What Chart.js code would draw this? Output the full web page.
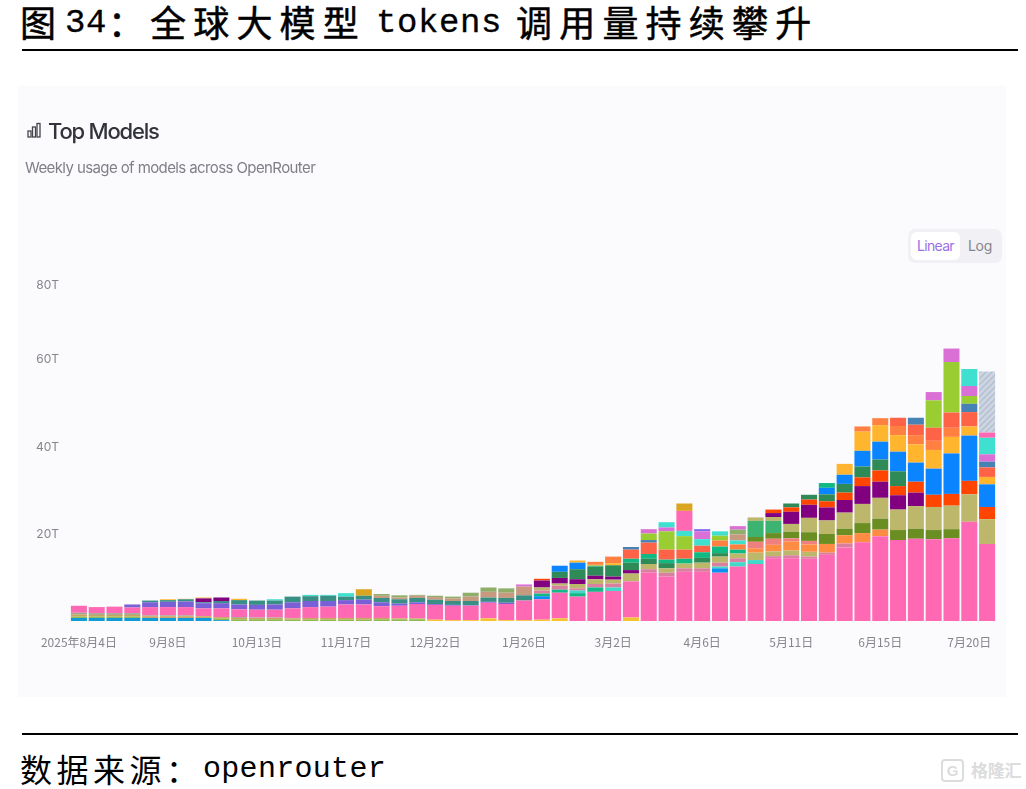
<!DOCTYPE html>
<html>
<head>
<meta charset="utf-8">
<script src="https://cdn.jsdelivr.net/npm/chart.js@4"></script>
<style>
html, body { margin: 0; padding: 0; background: #fff; }
#page { position: relative; width: 1026px; height: 789px; overflow: hidden; }
#page > * { position: absolute; }
.head { font-family: "Noto Sans CJK SC", sans-serif; font-size: 36px; line-height: 48px; top: -3px; letter-spacing: 7.2px; color: #000; white-space: nowrap; font-weight: 400; -webkit-text-stroke: .5px #000; }
.headLatin { font-family: "Liberation Mono", monospace; font-size: 34px; line-height: 48px; top: -1px; letter-spacing: .6px; color: #000; white-space: nowrap; -webkit-text-stroke: .3px #000; }
.foot { font-family: "Noto Sans CJK SC", sans-serif; font-size: 32px; line-height: 44px; top: 746px; letter-spacing: 4.5px; color: #000; white-space: nowrap; }
.footLatin { font-family: "Liberation Mono", monospace; font-size: 30px; line-height: 44px; top: 747px; letter-spacing: .3px; color: #000; white-space: nowrap; }
.rule { left: 22px; width: 996px; height: 2px; background: #000; }
#card { left: 18px; top: 86px; width: 988px; height: 611px; background: #fbfbfe; filter: blur(.7px); }
#card > * { position: absolute; }
#topTitle { left: 30px; top: 28px; font: 500 22px/34px Inter, sans-serif; letter-spacing: -1.2px; color: #33333b; white-space: nowrap; }
#topSub { left: 7px; top: 70px; font: 400 15px/24px Inter, sans-serif; letter-spacing: -.6px; color: #7f7f86; white-space: nowrap; }
#toggle { left: 890px; top: 143px; width: 94px; height: 34px; background: #f1f1f5; border-radius: 7px; }
#linearBtn { position: absolute; left: 3px; top: 3px; width: 49px; height: 28px; background: #fff; border-radius: 6px; font: 400 14px/28px Inter, sans-serif; letter-spacing: -.7px; color: #9a70e6; text-align: center; }
#logBtn { position: absolute; left: 60px; top: 3px; font: 400 14px/28px Inter, sans-serif; letter-spacing: -.3px; color: #85858c; }
#chartCanvas { left: 0; top: 0; }
#mark { left: 971px; top: 757px; font: 700 17px/26px "Noto Sans CJK SC", sans-serif; letter-spacing: -.3px; color: #dcdcdc; white-space: nowrap; }
#markLogo { left: 941px; top: 759px; width: 19px; height: 19px; border: 2px solid #dcdcdc; border-radius: 4px; font: 700 15px/19px "Liberation Sans", sans-serif; color: #dcdcdc; text-align: center; }
</style>
</head>
<body>
<div id="page">
  <div class="head" style="left:20px">图</div>
  <div class="headLatin" style="left:65px">34</div>
  <div class="head" style="left:108px">：</div>
  <div class="head" style="left:150px">全球大模型</div>
  <div class="headLatin" style="left:376px">tokens</div>
  <div class="head" style="left:516px">调用量持续攀升</div>
  <div class="rule" style="top:49px"></div>

  <div id="card">
    <canvas id="chartCanvas" width="988" height="611"></canvas>
    <svg style="left:9px;top:36px" width="14" height="16" viewBox="0 0 14 16" fill="none" stroke="#44444c" stroke-width="1.3">
      <rect x="1" y="9" width="3" height="6"/><rect x="5.5" y="5" width="3" height="10"/><rect x="10" y="1.5" width="3" height="13.5"/>
    </svg>
    <div id="topTitle">Top Models</div>
    <div id="topSub">Weekly usage of models across OpenRouter</div>
    <div id="toggle"><div id="linearBtn">Linear</div><div id="logBtn">Log</div></div>
  </div>

  <div class="rule" style="top:733px"></div>
  <div class="foot" style="left:20px">数据来源：</div>
  <div class="footLatin" style="left:203px">openrouter</div>
  <div id="markLogo">G</div>
  <div id="mark">格隆汇</div>
</div>

<script>
// one label per week
const weeks = ['2025年8月4日','8月11日','8月18日','8月25日','9月1日','9月8日','9月15日','9月22日','9月29日','10月6日',
  '10月13日','10月20日','10月27日','11月3日','11月10日','11月17日','11月24日','12月1日','12月8日','12月15日',
  '12月22日','12月29日','1月5日','1月12日','1月19日','1月26日','2月2日','2月9日','2月16日','2月23日',
  '3月2日','3月9日','3月16日','3月23日','3月30日','4月6日','4月13日','4月20日','4月27日','5月4日',
  '5月11日','5月18日','5月25日','6月1日','6月8日','6月15日','6月22日','6月29日','7月6日','7月13日',
  '7月20日','7月27日'];

const yTickValues = [20, 40, 60, 77.2];
const yTickLabels = ['20T', '40T', '60T', '80T'];

// weekly tokens in T, bottom of the stack first
const skyBase    = [.7,.7,.7,.7,.7,.7,.7,.7,.2,0, 0,0,0,0,0,0,0,0,0,0, 0,0,0,0,0,0,0,0,0,0, 0,0,0,0,0,0,0,0,0,0, 0,0,0,0,0,0,0,0,0,0, 0,0];
const mossBase   = [.3,.3,.3,.3,0,0,0,0,.4,.4, .4,.4,.3,.3,.3,.3,.3,.4,.4,.4, 0,0,0,0,0,0,0,0,0,0, 0,0,0,0,0,0,0,0,0,0, 0,0,0,0,0,0,0,0,0,0, 0,0];
const yellowBase = [0,0,0,0,0,0,0,0,0,0, 0,0,0,0,0,0,0,0,0,0, .3,.2,.2,.6,.2,.2,.3,.6,0,0, 0,.8,0,0,0,0,0,0,0,0, 0,0,0,0,0,0,0,0,0,0, 0,0];
const tanBase    = [.5,.4,.4,.4,.4,.4,.4,.4,.3,.3, .3,.3,.3,.4,.4,.4,.4,.3,.2,.2, 0,0,0,0,0,0,0,0,0,0, 0,0,0,0,0,0,0,0,0,0, 0,0,0,0,0,0,0,0,0,0, 0,0];
const greyBase   = [.4,.4,.4,.4,.2,.2,.2,0,0,.2, .1,.1,.1,0,0,0,0,0,0,0, 0,0,0,0,0,0,0,0,0,0, 0,0,0,0,0,0,0,0,0,0, 0,0,0,0,0,0,0,0,0,0, 0,0];
const hotPink    = [1.6,1.4,1.5,1.3,1.9,1.9,1.9,1.8,2,1.8, 1.8,1.8,2.2,2.5,2.6,3.1,3.1,2.7,2.9,3.3, 3.4,3.3,3.3,3.6,3.7,4.5,4.7,5.9,5.6,6.7, 6.9,8.3,11.1,10.2,11.3,11.3,11.1,12.5,13.1,14.4, 14.4,14.3,15.2,16.9,18.1,19.5,18.6,18.9,18.8,19, 22.8,17.7];
const azureLow   = [0,0,0,0,0,0,0,0,0,0, 0,0,0,0,0,0,0,0,0,0, 0,0,0,0,0,0,.7,0,0,0, 0,0,0,0,0,0,1,0,0,0, 0,0,0,0,0,0,0,0,0,0, 0,0];
const emeraldLow = [0,0,0,0,0,0,0,0,0,0, 0,0,0,0,0,0,0,0,0,0, 0,0,0,0,0,0,.6,.7,.8,1, 0,0,0,0,0,0,0,0,0,0, 0,0,0,0,0,0,0,0,0,0, 0,0];
const turqLow    = [0,0,0,0,0,0,0,0,0,0, 0,0,0,0,0,0,0,0,0,0, 0,0,0,0,0,0,0,0,.6,0, .8,0,0,0,0,0,.4,1,.9,0, 0,0,0,0,0,0,0,0,0,0, 0,0];
const rose       = [0,0,0,0,0,0,0,0,0,0, 0,0,0,0,0,0,0,0,0,0, 0,0,0,0,0,0,.7,.9,.5,.8, .9,0,.8,.9,.8,.8,.9,.9,0,.5, .7,.5,.5,.9,0,0,0,0,0,0, 0,0];
const khakiLow   = [0,0,0,0,0,0,0,0,0,0, 0,0,0,0,0,0,0,0,0,0, 0,0,0,0,0,0,0,0,0,0, 0,0,0,0,0,0,0,0,1.7,1.1, 1.1,1.1,0,0,0,0,0,0,0,0, 0,0];
const coral      = [0,0,0,0,0,0,0,0,0,0, 0,0,0,0,0,0,0,0,0,0, 0,0,0,0,0,0,0,0,0,0, 0,0,0,0,0,0,0,0,1,1.5, 2.1,1.7,2,1.9,2.1,1.5,0,0,0,0, 0,0];
const salmon     = [0,0,0,0,0,0,0,0,0,0, 0,0,0,0,0,0,0,0,0,0, 0,0,0,0,0,0,0,0,0,0, 0,0,0,0,0,0,0,0,1.5,1.4, .7,.8,0,0,0,0,0,0,0,0, 0,0];
const olive      = [0,0,0,0,0,0,0,0,0,0, 0,0,0,0,0,0,0,0,0,0, 0,0,0,0,0,0,0,0,0,0, 0,0,0,0,0,0,0,0,1.1,1.3, 1.5,2,2.3,1.5,2.3,2.5,2.3,2.3,2.1,2.1, 0,0];
const mediumSea  = [0,0,0,0,0,0,0,0,0,0, 0,0,0,0,0,0,0,0,0,0, 0,0,0,0,0,0,0,0,0,0, 0,0,0,0,0,0,0,0,3.7,2.8, 0,0,0,0,0,0,0,0,0,0, 0,0];
const khaki      = [0,0,0,0,0,0,0,0,0,0, 0,0,0,0,0,0,0,0,0,0, 0,0,0,0,0,0,.7,.5,1,1.1, .9,1.8,1.2,1,1.1,1.3,1.4,1.1,.8,.9, 1.8,3.3,3.1,3.7,4.4,4.8,4.7,5.2,5.3,5.4, 6.3,5.7];
const slate      = [0,0,0,.7,1.1,1.2,1.3,1.2,1.2,1.1, 1.1,1.2,1.4,1.4,1.3,1,1.1,.9,.5,.4, .2,.2,.1,.2,.3,0,0,0,0,0, 0,0,0,0,0,0,0,0,0,0, 0,0,0,0,0,0,0,0,0,0, 0,0];
const teal       = [0,0,0,0,.4,.4,.5,.2,.5,1, 1,.9,1.3,1.1,1.2,.8,.9,1,1,1, 1,.9,1,1,1.1,1.2,0,0,0,0, 0,0,0,0,0,0,0,0,0,0, 0,0,0,0,0,0,0,0,0,0, 0,0];
const purple     = [0,0,0,0,0,0,0,.9,.8,0, 0,0,0,0,0,0,0,0,0,0, 0,0,0,0,0,0,1.6,1.3,1.1,.8, .7,.8,0,0,0,0,0,0,0,.9, 2.8,3,3,2.9,4.1,3.7,3.3,3.1,0,0, 0,0];
const orangeRed  = [0,0,0,0,0,0,0,0,0,0, 0,0,0,0,0,0,0,0,0,0, 0,0,0,0,0,0,.4,0,0,0, 0,0,0,0,0,0,0,0,0,.8, 1,1.2,1.4,1.7,2,2.6,2.1,2.5,2.8,2.7, 3.1,2.8];
const seaGreen   = [0,0,0,0,0,0,0,0,0,0, 0,0,0,0,0,0,0,0,0,0, 0,0,0,0,0,0,0,1.4,2.3,2.1, 2.6,1.7,1.2,1.2,0,1.1,.8,0,0,0, .9,1.1,1.6,2,2.5,2.5,3.4,0,0,0, 0,0];
const blue       = [0,0,0,0,0,0,0,0,0,0, 0,0,0,0,0,0,0,0,0,0, 0,0,0,0,0,0,0,1.4,1.5,0, 0,0,0,0,0,0,0,0,0,0, 0,0,1.5,2.1,3.6,4.1,4.5,4.4,6,9.3, 10.4,5.2];
const emerald    = [0,0,0,0,0,0,0,0,0,0, 0,0,0,0,0,0,0,0,0,0, 0,0,0,0,0,0,0,0,0,.2, 0,.9,1.1,.8,1.1,1.3,1.5,.9,0,0, 0,0,1.1,0,0,0,0,0,0,0, 0,0];
const amber      = [0,0,0,0,0,.2,.1,.2,0,.3, 0,0,0,0,0,0,0,0,0,0, 0,0,0,0,0,0,0,0,.5,.2, .5,0,0,0,0,0,0,0,0,0, 0,0,0,2.5,4.4,3.8,3.8,4.2,4.3,3.8, 2.1,1.7];
const orange     = [0,0,0,0,0,0,0,0,0,0, 0,0,0,0,0,0,0,0,0,0, 0,0,0,0,0,0,0,0,0,.7, 1.5,0,0,0,0,0,1.4,1.2,0,0, 0,0,0,0,1.2,1.6,2.1,2.1,2.1,2.1, 0,0];
const tomato     = [0,0,0,0,0,0,0,0,0,0, 0,0,0,0,0,0,0,0,0,0, 0,0,0,0,0,0,0,0,0,0, 0,2.1,2.6,2.3,2.1,1.5,0,0,0,0, 0,0,0,0,0,0,1.9,2.4,3,3.5, 3.3,2.2];
const steel      = [0,0,0,0,0,0,0,0,0,0, 0,0,0,0,0,0,0,0,0,0, 0,0,0,0,0,0,0,0,0,0, 0,.6,.6,0,0,0,0,0,0,0, 0,0,0,0,0,0,0,1.6,0,0, 1.9,1.3];
const yellowGreen = [0,0,0,0,0,0,0,0,0,0, 0,0,0,0,0,0,0,0,0,0, 0,0,0,0,0,0,0,0,0,0, 0,0,1.5,4.2,3.1,0,1.1,0,0,0, 0,0,0,0,0,0,0,0,6.3,11.6, 1.8,0];
const turqMid    = [0,0,0,0,0,0,0,0,0,0, 0,0,0,0,0,0,0,0,0,0, 0,0,0,0,0,0,0,0,0,0, 0,0,0,0,1.2,1.5,0,.9,0,0, 0,0,0,0,0,0,0,0,0,0, 0,0];
const salmonTop  = [0,0,0,0,0,0,0,0,0,0, 0,0,0,0,0,0,0,.5,.4,.5, .6,.6,1,1.3,1.2,2,0,0,0,0, 0,0,0,0,0,0,0,1.4,0,0, 0,0,0,0,0,0,0,0,0,0, 0,0];
const oliveTop   = [0,0,0,0,0,0,0,0,0,0, 0,0,0,0,0,0,0,.4,.5,.2, .3,.4,.9,1,1,0,0,0,0,0, 0,0,0,0,0,0,0,1.1,0,0, 0,0,0,0,0,0,0,0,0,0, 0,0];
const orchid     = [0,0,0,0,0,0,0,0,0,0, 0,0,0,0,0,0,0,0,0,0, 0,0,0,0,0,.5,0,0,0,0, 0,0,1,.9,0,1.8,0,.8,0,0, 0,0,0,0,0,0,0,0,1.9,3.1, 2.3,1.7];
const turquoise  = [0,0,0,0,0,0,0,0,0,0, 0,.3,0,.3,.2,.8,0,0,0,0, 0,0,0,0,0,0,0,0,0,0, 0,0,0,1.2,0,0,1,0,0,0, 0,0,0,0,0,0,0,0,0,0, 3.9,3.8];
const slateTop   = [0,0,0,0,0,0,0,0,0,0, 0,0,0,0,0,0,0,0,0,0, 0,0,0,0,0,0,0,0,0,0, 0,0,0,0,0,.5,0,0,0,0, 0,0,0,0,0,0,0,0,0,0, 0,0];
const pinkTop    = [0,0,0,0,0,0,0,0,0,0, 0,0,0,0,0,0,0,0,0,0, 0,0,0,0,0,0,0,0,0,0, 0,0,0,0,4.6,0,0,0,0,0, 0,0,0,0,0,0,0,0,0,0, 0,1.2];
const goldTop    = [0,0,0,0,0,0,0,0,0,0, 0,0,0,0,0,0,1.5,0,0,0, 0,0,0,0,0,0,0,0,0,0, 0,0,0,0,1.7,0,0,0,0,0, 0,0,0,0,0,0,0,0,0,0, 0,0];
const partialWeek = [0,0,0,0,0,0,0,0,0,0, 0,0,0,0,0,0,0,0,0,0, 0,0,0,0,0,0,0,0,0,0, 0,0,0,0,0,0,0,0,0,0, 0,0,0,0,0,0,0,0,0,0, 0,14];

// grey stripes for the week that is not finished yet
function hatchPattern() {
    const c = document.createElement('canvas');
    c.width = 6;
    c.height = 6;
    const g = c.getContext('2d');
    g.fillStyle = '#cdd5e2';
    g.fillRect(0, 0, 6, 6);
    g.strokeStyle = '#b4bfd0';
    g.lineWidth = 1.5;
    g.beginPath();
    g.moveTo(-1, 7); g.lineTo(7, -1);
    g.moveTo(-1, 1); g.lineTo(1, -1);
    g.moveTo(5, 7); g.lineTo(7, 5);
    g.stroke();
    return g.createPattern(c, 'repeat');
}

const layers = [
    [skyBase, '#119ad6'], [mossBase, '#8fb84e'], [yellowBase, '#f4c430'], [tanBase, '#c9a45c'], [greyBase, '#a0a58e'],
    [hotPink, '#ff69b4'], [azureLow, '#0a90f0'], [emeraldLow, '#12b886'], [turqLow, '#40d8c8'], [rose, '#d97fa0'],
    [khakiLow, '#bdb76b'], [coral, '#ff8c42'], [salmon, '#f08080'], [olive, '#6b8e23'], [mediumSea, '#3cb371'],
    [khaki, '#bdb76b'], [slate, '#7b5fd6'], [teal, '#3a8f84'], [purple, '#800080'], [orangeRed, '#ff4500'],
    [seaGreen, '#2e8b57'], [blue, '#0a84ff'], [emerald, '#10b981'], [amber, '#ffb52e'], [orange, '#ff8040'],
    [tomato, '#ff6347'], [steel, '#4682b4'], [yellowGreen, '#9acd32'], [turqMid, '#40e0d0'], [salmonTop, '#c79a80'],
    [oliveTop, '#8fae6a'], [orchid, '#da70d6'], [turquoise, '#40e0d0'], [slateTop, '#7b68ee'], [pinkTop, '#ff69b4'],
    [goldTop, '#daa520'], [partialWeek, hatchPattern()]
];

new Chart(document.getElementById('chartCanvas'), {
    type: 'bar',
    data: {
        labels: weeks,
        datasets: layers.map(l => ({ data: l[0], backgroundColor: l[1], borderWidth: 0, barPercentage: 0.9, categoryPercentage: 1 }))
    },
    options: {
        responsive: false,
        animation: false,
        layout: { padding: { top: 199, right: 10, left: 0, bottom: 0 } },
        plugins: { legend: { display: false }, tooltip: { enabled: false } },
        scales: {
            x: {
                stacked: true,
                grid: { display: false, drawTicks: false },
                border: { display: false },
                afterFit: function (scale) { scale.height = 76; },
                ticks: {
                    autoSkip: false,
                    maxRotation: 0,
                    padding: 14,
                    color: '#85858c',
                    font: { family: '"Noto Sans CJK SC", sans-serif', size: 12 },
                    callback: function (value, index) { return index % 5 === 0 ? weeks[index] : ''; }
                }
            },
            y: {
                stacked: true,
                min: 0,
                max: 77.2,
                grid: { display: false, drawTicks: false },
                border: { display: false },
                afterFit: function (scale) { scale.width = 52; },
                afterBuildTicks: function (scale) { scale.ticks = yTickValues.map(v => ({ value: v })); },
                ticks: {
                    padding: 11,
                    color: '#85858c',
                    font: { family: 'Inter, sans-serif', size: 12 },
                    callback: function (value) { return yTickLabels[yTickValues.indexOf(value)]; }
                }
            }
        }
    }
});
</script>
</body>
</html>
